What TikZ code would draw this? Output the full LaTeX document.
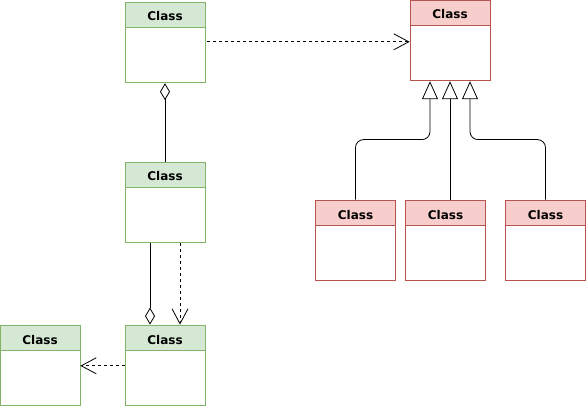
\documentclass[tikz,border=0pt]{standalone}
\usepackage{fontspec}
\setsansfont{DejaVu Sans}
\usepackage{tikz}
\usetikzlibrary{positioning,arrows.meta}

\definecolor{greenfill}{HTML}{D5E8D4}
\definecolor{greenline}{HTML}{82B366}
\definecolor{redfill}{HTML}{F8CECC}
\definecolor{redline}{HTML}{B85450}

\tikzset{
  classhead/.style = {draw, line width=0.8pt, minimum width=80pt, minimum height=25pt,
                      inner sep=0pt, text height=13pt, text depth=0pt,
                      font=\sffamily\bfseries\fontsize{12}{14}\selectfont},
  classbody/.style = {draw, line width=0.8pt, fill=white, minimum width=80pt,
                      minimum height=55pt, inner sep=0pt, below=0pt of #1},
  greenhead/.style = {classhead, draw=greenline, fill=greenfill},
  redhead/.style   = {classhead, draw=redline, fill=redfill},
  greenbody/.style = {classbody=#1, draw=greenline},
  redbody/.style   = {classbody=#1, draw=redline},
  dep/.style = {line width=0.8pt, dash pattern=on 3pt off 3pt,
                -{Straight Barb[length=15pt,width=16pt,line width=0.8pt]}},
  agg/.style = {line width=0.8pt, -{Diamond[open,length=17pt,width=10pt,line width=0.8pt]}},
  gen/.style = {line width=0.8pt, rounded corners=8pt,
                -{Triangle[open,length=18pt,width=16pt,line width=0.8pt]}}
}

\begin{document}
\begin{tikzpicture}[x=1pt,y=-1pt]
  \useasboundingbox (0,0) rectangle (586,406);

  \node[greenhead] (Ah) at (165,14.5) {Class};
  \node[greenbody=Ah] (Ab) {};
  \node[greenhead] (Bh) at (165,174.5) {Class};
  \node[greenbody=Bh] (Bb) {};
  \node[greenhead] (Ch) at (165,337.5) {Class};
  \node[greenbody=Ch] (Cb) {};
  \node[greenhead] (Dh) at (40,337.5) {Class};
  \node[greenbody=Dh] (Db) {};

  \node[redhead] (Rh) at (450,12.5) {Class};
  \node[redbody=Rh] (Rb) {};
  \node[redhead] (S1h) at (355.5,212.5) {Class};
  \node[redbody=S1h] (S1b) {};
  \node[redhead] (S2h) at (445.5,212.5) {Class};
  \node[redbody=S2h] (S2b) {};
  \node[redhead] (S3h) at (545.5,212.5) {Class};
  \node[redbody=S3h] (S3b) {};

  \draw[dep] ([xshift=2pt,yshift=13.5pt]Ab.east) -- ([yshift=11.5pt]Rb.west);
  \draw[agg] (Bh.north) -- (Ab.south);
  \draw[agg] ([xshift=-15pt]Bb.south) -- ([xshift=-15pt]Ch.north);
  \draw[dep] ([xshift=15pt]Bb.south) -- ([xshift=15pt]Ch.north);
  \draw[dep] ([yshift=12.5pt]Cb.west) -- ([yshift=12.5pt]Db.east);

  \draw[gen] (S1h.north) -- ++(0,-60) -| ([xshift=-20pt]Rb.south);
  \draw[gen] (Rb.south |- S2h.north) -- (Rb.south);
  \draw[gen] (S3h.north) -- ++(0,-60) -| ([xshift=20pt]Rb.south);
\end{tikzpicture}
\end{document}
